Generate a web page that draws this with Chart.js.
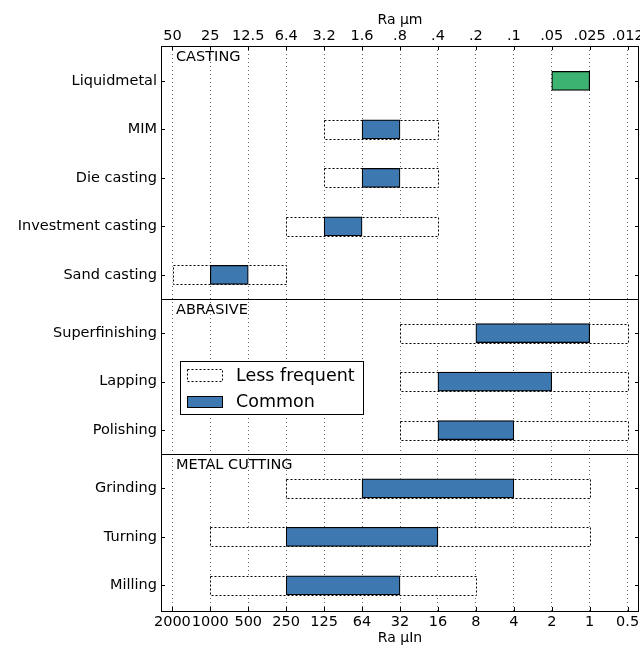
<!DOCTYPE html>
<html>
<head>
<meta charset="utf-8">
<script src="https://cdn.jsdelivr.net/npm/chart.js@4.4.1/dist/chart.umd.min.js"></script>
<style>
  html, body { margin: 0; padding: 0; background: #fff; }
  #wrap { width: 640px; height: 648px; }
</style>
</head>
<body>
<div id="wrap"><canvas id="chart"></canvas></div>
<script>
//---------------------------------------------------------------------
// DONNÉES
//---------------------------------------------------------------------
const sections = ['CASTING', 'ABRASIVE', 'METAL CUTTING'];
const categories = ['Liquidmetal', 'MIM', 'Die casting', 'Investment casting', 'Sand casting',
                    'Superfinishing', 'Lapping', 'Polishing',
                    'Grinding', 'Turning', 'Milling'];
const sectionOf = [0, 0, 0, 0, 0, 1, 1, 1, 2, 2, 2];

// positions en index de graduation (0 = 2000 µin ... 12 = 0.5 µin)
const lessStart   = [null, 4, 4, 3, 0, 6, 6, 6, 3, 1, 1];
const lessEnd     = [null, 7, 7, 7, 3, 12, 12, 12, 11, 11, 8];
const commonStart = [10, 5, 5, 4, 1, 8, 7, 7, 5, 3, 3];
const commonEnd   = [11, 6, 6, 5, 2, 11, 10, 9, 9, 7, 6];

const raMicroInch = ['2000', '1000', '500', '250', '125', '64', '32', '16', '8', '4', '2', '1', '0.5'];
const raMicron    = ['50', '25', '12.5', '6.4', '3.2', '1.6', '.8', '.4', '.2', '.1', '.05', '.025', '.012'];

//---------------------------------------------------------------------
// POSITIONS DES LIGNES
//---------------------------------------------------------------------
const rowPos = [];
const sepPos = [];
const sectionTop = [];
let pos = 0;
categories.forEach((c, i) => {
    if (i === 0) {
        sectionTop.push(pos);
        pos += 0.72;
    } else if (sectionOf[i] !== sectionOf[i - 1]) {
        pos += 0.5;
        sepPos.push(pos);
        sectionTop.push(pos);
        pos += 0.7;
    } else {
        pos += 1;
    }
    rowPos.push(pos);
});
const yMax = pos + 0.53;

const BLUE = '#3d79b0';
const GREEN = '#3cb371';

const lessData = categories
    .map((c, i) => lessStart[i] === null ? null : { x: [lessStart[i], lessEnd[i]], y: rowPos[i] })
    .filter(d => d !== null);
const commonData = categories.map((c, i) => ({ x: [commonStart[i], commonEnd[i]], y: rowPos[i] }));

//---------------------------------------------------------------------
// PLUGINS
//---------------------------------------------------------------------
const dashedBoxes = {
    id: 'dashedBoxes',
    afterDatasetDraw(chart, args) {
        if (args.index !== 0) return;
        const ctx = chart.ctx;
        ctx.save();
        ctx.strokeStyle = '#000';
        ctx.lineWidth = 1;
        ctx.setLineDash([2, 2]);
        args.meta.data.forEach(el => {
            const p = el.getProps(['x', 'y', 'base', 'height'], true);
            const x0 = Math.round(Math.min(p.x, p.base)) + 0.5;
            const x1 = Math.round(Math.max(p.x, p.base)) + 0.5;
            const y0 = Math.round(p.y - p.height / 2) + 0.5;
            const y1 = Math.round(p.y + p.height / 2) + 0.5;
            ctx.strokeRect(x0, y0, x1 - x0, y1 - y0);
        });
        ctx.restore();
    }
};

const decorations = {
    id: 'decorations',
    afterDraw(chart) {
        const ctx = chart.ctx;
        const a = chart.chartArea;
        const xs = chart.scales.x;
        const ys = chart.scales.y;
        ctx.save();
        ctx.strokeStyle = '#000';
        ctx.lineWidth = 1;
        ctx.setLineDash([]);

        // séparateurs
        ctx.beginPath();
        sepPos.forEach(v => {
            const py = Math.round(ys.getPixelForValue(v)) + 0.5;
            ctx.moveTo(a.left, py);
            ctx.lineTo(a.right, py);
        });
        // graduations internes
        raMicroInch.forEach((l, i) => {
            const px = Math.round(xs.getPixelForValue(i)) + 0.5;
            ctx.moveTo(px, a.top); ctx.lineTo(px, a.top + 4);
            ctx.moveTo(px, a.bottom); ctx.lineTo(px, a.bottom - 4);
        });
        rowPos.forEach(v => {
            const py = Math.round(ys.getPixelForValue(v)) + 0.5;
            ctx.moveTo(a.left, py); ctx.lineTo(a.left + 4, py);
            ctx.moveTo(a.right, py); ctx.lineTo(a.right - 4, py);
        });
        ctx.stroke();

        // cadre
        ctx.strokeRect(Math.round(a.left) + 0.5, Math.round(a.top) + 0.5,
                       Math.round(a.right - a.left) - 1, Math.round(a.bottom - a.top));

        // titres de section
        ctx.fillStyle = '#000';
        ctx.font = '14.5px "DejaVu Sans"';
        ctx.textAlign = 'left';
        ctx.textBaseline = 'middle';
        sections.forEach((s, k) => {
            ctx.fillText(s, a.left + 15, ys.getPixelForValue(sectionTop[k]) + 11);
        });

        // légende
        const lx = 180, ly = 361, lw = 183, lh = 53;
        ctx.fillStyle = '#fff';
        ctx.fillRect(lx, ly, lw, lh);
        ctx.strokeRect(lx + 0.5, ly + 0.5, lw, lh);
        ctx.setLineDash([2, 2]);
        ctx.strokeRect(187.5, 369.5, 35, 12);
        ctx.setLineDash([]);
        ctx.fillStyle = BLUE;
        ctx.fillRect(187, 396, 36, 12);
        ctx.strokeRect(187.5, 396.5, 35, 11);
        ctx.fillStyle = '#000';
        ctx.font = '17.5px "DejaVu Sans"';
        ctx.fillText('Less frequent', 236, 376);
        ctx.fillText('Common', 236, 402);
        ctx.restore();
    }
};

//---------------------------------------------------------------------
// GRAPHIQUE
//---------------------------------------------------------------------
Chart.defaults.font.family = '"DejaVu Sans"';
Chart.defaults.font.size = 14.5;
Chart.defaults.color = '#000';

new Chart(document.getElementById('chart'), {
    type: 'bar',
    data: {
        datasets: [
            {
                label: 'Less frequent',
                data: lessData,
                backgroundColor: '#fff',
                borderWidth: 0,
                order: 2
            },
            {
                label: 'Common',
                data: commonData,
                backgroundColor: ctx => categories[ctx.dataIndex] === 'Liquidmetal' ? GREEN : BLUE,
                borderColor: '#000',
                borderWidth: 1.2,
                borderSkipped: false,
                order: 1
            }
        ]
    },
    options: {
        indexAxis: 'y',
        responsive: true,
        maintainAspectRatio: false,
        animation: false,
        layout: { padding: { right: 1, left: 0, top: 0, bottom: 0 } },
        datasets: { bar: { grouped: false, barThickness: 19 } },
        plugins: {
            legend: { display: false },
            tooltip: { enabled: false }
        },
        scales: {
            x: {
                type: 'linear',
                position: 'bottom',
                min: -0.3,
                max: 12.3,
                z: 1,
                afterBuildTicks: s => { s.ticks = raMicroInch.map((l, i) => ({ value: i })); },
                afterFit: s => { s.height = 37; s.paddingLeft = 0; s.paddingRight = 0; },
                ticks: {
                    autoSkip: false,
                    maxRotation: 0,
                    padding: 3,
                    callback: (v, i) => raMicroInch[i]
                },
                grid: { color: 'rgba(0,0,0,0.6)', lineWidth: 1, drawTicks: false },
                border: { display: false, dash: [1, 3] },
                title: { display: true, text: 'Ra μIn', font: { size: 14 }, padding: { top: 0, bottom: 1 } }
            },
            x2: {
                type: 'linear',
                axis: 'x',
                position: 'top',
                min: -0.3,
                max: 12.3,
                afterBuildTicks: s => { s.ticks = raMicron.map((l, i) => ({ value: i })); },
                afterFit: s => { s.height = 46; s.paddingLeft = 0; s.paddingRight = 0; },
                ticks: {
                    autoSkip: false,
                    maxRotation: 0,
                    padding: 1,
                    callback: (v, i) => raMicron[i]
                },
                grid: { display: false, drawTicks: false },
                border: { display: false },
                title: { display: true, text: 'Ra μm', font: { size: 14 }, padding: { top: 12, bottom: 0 } }
            },
            y: {
                type: 'linear',
                reverse: true,
                offset: false,
                min: 0,
                max: yMax,
                afterBuildTicks: s => { s.ticks = rowPos.map(v => ({ value: v })); },
                afterFit: s => { s.width = 161; },
                ticks: {
                    padding: 4,
                    callback: (v, i) => categories[i]
                },
                grid: { display: false, drawTicks: false, offset: false },
                border: { display: false }
            }
        }
    },
    plugins: [dashedBoxes, decorations]
});
</script>
</body>
</html>
